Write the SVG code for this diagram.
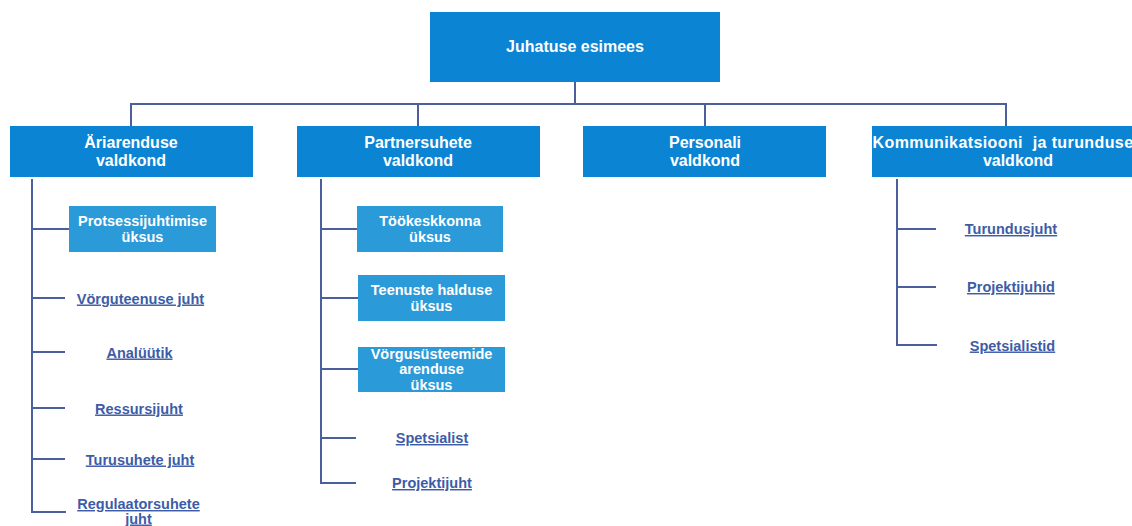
<svg xmlns="http://www.w3.org/2000/svg" width="1132" height="526" viewBox="0 0 1132 526">
  <style>
    .main { fill: #0b84d4; }
    .unit { fill: #2a9ad9; }
    .lbl { font-family: "Liberation Sans", Arial, sans-serif; font-weight: bold; fill: #ffffff; text-anchor: middle; }
    .big { font-size: 16px; }
    .small { font-size: 14.5px; }
    .link { font-family: "Liberation Sans", Arial, sans-serif; font-weight: bold; font-size: 14.5px; fill: #3d5ca8; text-anchor: middle; text-decoration: underline; }
    .wire { stroke: #4a5f9c; stroke-width: 2; fill: none; }
  </style>
  <rect width="1132" height="526" fill="#ffffff"/>

  <!-- connectors -->
  <g id="connectors" class="wire">
    <!-- top level to departments -->
    <path d="M575 82 V104"/>
    <path d="M131 126 V104 H1006 V126"/>
    <path d="M418 104 V126"/>
    <path d="M705 104 V126"/>
    <!-- Äriarenduse valdkond -->
    <path d="M32 179 V512 H66"/>
    <path d="M32 229 H69"/>
    <path d="M32 298 H65"/>
    <path d="M32 352 H65"/>
    <path d="M32 408 H65"/>
    <path d="M32 459 H65"/>
    <!-- Partnersuhete valdkond -->
    <path d="M321 179 V483 H356"/>
    <path d="M321 229 H357"/>
    <path d="M321 298 H358"/>
    <path d="M321 369 H358"/>
    <path d="M321 438 H356"/>
    <!-- Kommunikatsiooni ja turunduse valdkond -->
    <path d="M897 179 V345 H937"/>
    <path d="M897 229 H936"/>
    <path d="M897 287 H936"/>
  </g>

  <!-- top level -->
  <g id="juhatuse-esimees">
    <rect class="main" x="430" y="12" width="290" height="70"/>
    <text class="lbl big" x="575" y="52">Juhatuse esimees</text>
  </g>

  <!-- departments -->
  <g id="ariarenduse">
    <rect class="main" x="10" y="126" width="243" height="51"/>
    <text class="lbl big" x="131" y="148">Äriarenduse</text>
    <text class="lbl big" x="131" y="166">valdkond</text>
  </g>
  <g id="partnersuhete">
    <rect class="main" x="297" y="126" width="243" height="51"/>
    <text class="lbl big" x="418" y="148">Partnersuhete</text>
    <text class="lbl big" x="418" y="166">valdkond</text>
  </g>
  <g id="personali">
    <rect class="main" x="583" y="126" width="243" height="51"/>
    <text class="lbl big" x="705" y="148">Personali</text>
    <text class="lbl big" x="705" y="166">valdkond</text>
  </g>
  <g id="kommunikatsioon">
    <rect class="main" x="872" y="126" width="270" height="51"/>
    <text class="lbl big" x="1003" y="148" letter-spacing="0.4">Kommunikatsiooni&#160; ja turunduse</text>
    <text class="lbl big" x="1018" y="166">valdkond</text>
  </g>

  <!-- units -->
  <g id="protsessijuhtimise">
    <rect class="unit" x="69" y="206" width="147" height="46"/>
    <text class="lbl small" x="142.5" y="226">Protsessijuhtimise</text>
    <text class="lbl small" x="142.5" y="242">üksus</text>
  </g>
  <g id="tookeskkonna">
    <rect class="unit" x="357" y="206" width="146" height="46"/>
    <text class="lbl small" x="430" y="226">Töökeskkonna</text>
    <text class="lbl small" x="430" y="242">üksus</text>
  </g>
  <g id="teenuste-halduse">
    <rect class="unit" x="358" y="275" width="147" height="46"/>
    <text class="lbl small" x="431.5" y="295">Teenuste halduse</text>
    <text class="lbl small" x="431.5" y="311">üksus</text>
  </g>
  <g id="vorgususteemide">
    <rect class="unit" x="358" y="347" width="147" height="45"/>
    <text class="lbl small" x="431.5" y="358.5">Vörgusüsteemide</text>
    <text class="lbl small" x="431.5" y="374">arenduse</text>
    <text class="lbl small" x="431.5" y="389.5">üksus</text>
  </g>

  <!-- roles -->
  <g id="vorguteenuse-juht"><text class="link" x="140.5" y="303.5">Vörguteenuse juht</text></g>
  <g id="analuutik"><text class="link" x="139.5" y="357.5">Analüütik</text></g>
  <g id="ressursijuht"><text class="link" x="139" y="413.5">Ressursijuht</text></g>
  <g id="turusuhete-juht"><text class="link" x="140" y="464.5">Turusuhete juht</text></g>
  <g id="regulaatorsuhete-juht">
    <text class="link" x="138.5" y="509">Regulaatorsuhete</text>
    <text class="link" x="138.5" y="523.5">juht</text>
  </g>
  <g id="spetsialist"><text class="link" x="432" y="443">Spetsialist</text></g>
  <g id="projektijuht"><text class="link" x="432" y="488">Projektijuht</text></g>
  <g id="turundusjuht"><text class="link" x="1011" y="234">Turundusjuht</text></g>
  <g id="projektijuhid"><text class="link" x="1011" y="292">Projektijuhid</text></g>
  <g id="spetsialistid"><text class="link" x="1012.5" y="350.5">Spetsialistid</text></g>
</svg>
